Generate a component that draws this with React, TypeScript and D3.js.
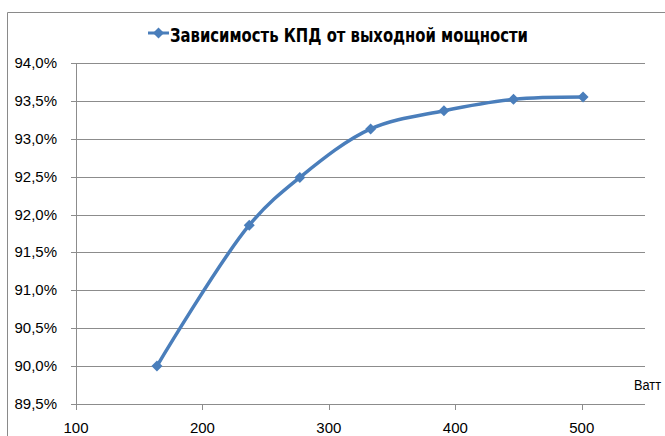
import React from 'react';
import * as d3 from 'd3';

// мощность, Вт и КПД, %
const powerW = [164, 237, 277, 333, 391, 446, 501];
const efficiency = [90.0, 91.86, 92.49, 93.13, 93.37, 93.52, 93.55];
const xTicks = [100, 200, 300, 400, 500];
const yTicks = [89.5, 90.0, 90.5, 91.0, 91.5, 92.0, 92.5, 93.0, 93.5, 94.0];
const title = 'Зависимость КПД от выходной мощности';
const xUnit = 'Ватт';

const W = 665;
const H = 436;
const margin = { top: 63, right: 20, bottom: 32, left: 76 };
const lineColor = '#4a7ebb';
const gridColor = '#8c8c8c';
const font = '"Liberation Sans", Arial, sans-serif';
const titleFont = '"Liberation Sans Narrow", "Arial Narrow", "DejaVu Sans Condensed", sans-serif';

export default function App() {
  const x = d3.scaleLinear().domain([100, 550]).range([margin.left, W - margin.right]);
  const y = d3.scaleLinear().domain([89.5, 94.0]).range([H - margin.bottom, margin.top]);

  const line = d3
    .line<number>()
    .x((_, i) => x(powerW[i]))
    .y((d) => y(d))
    .curve(d3.curveCatmullRom.alpha(0.5));

  const diamond = (cx: number, cy: number, r = 5) =>
    `M${cx},${cy - r}L${cx + r},${cy}L${cx},${cy + r}L${cx - r},${cy}Z`;

  const fmt = (v: number) => v.toFixed(1).replace('.', ',') + '%';

  return (
    <div style={{ position: 'absolute', left: 0, top: 0 }}>
      <svg width={W} height={H} style={{ display: 'block', background: '#fff' }}>
        {/* рамка диаграммы */}
        <path d={`M7.5,${H}V12.5H${W}`} fill="none" stroke="#8a8a8a" strokeWidth={1} />

        {/* заголовок с маркером легенды */}
        <line x1={148} x2={169} y1={33} y2={33} stroke={lineColor} strokeWidth={3} />
        <path d={diamond(158.5, 33, 5.5)} fill={lineColor} />
        <text
          x={170}
          y={42}
          fontFamily={titleFont}
          fontWeight="bold"
          fontSize={20}
          fill="#000"
          textLength={358}
          lengthAdjust="spacingAndGlyphs"
        >
          {title}
        </text>

        {/* сетка и ось Y */}
        {yTicks.map((t) => (
          <g key={t}>
            <line
              x1={margin.left - 5}
              x2={x(550)}
              y1={Math.round(y(t)) + 0.5}
              y2={Math.round(y(t)) + 0.5}
              stroke={gridColor}
              strokeWidth={1}
            />
            <text
              x={57}
              y={y(t) + 5}
              textAnchor="end"
              fontFamily={font}
              fontSize={15}
              fill="#000"
            >
              {fmt(t)}
            </text>
          </g>
        ))}
        <line
          x1={margin.left + 0.5}
          x2={margin.left + 0.5}
          y1={y(94)}
          y2={y(89.5)}
          stroke={gridColor}
        />

        {/* ось X */}
        {xTicks.map((t) => (
          <g key={t}>
            <line
              x1={Math.round(x(t)) + 0.5}
              x2={Math.round(x(t)) + 0.5}
              y1={y(89.5)}
              y2={y(89.5) + 6}
              stroke={gridColor}
            />
            <text x={x(t)} y={433} textAnchor="middle" fontFamily={font} fontSize={15} fill="#000">
              {t}
            </text>
          </g>
        ))}
        <text
          x={634}
          y={390}
          fontFamily={font}
          fontSize={14}
          fill="#000"
          textLength={27}
          lengthAdjust="spacingAndGlyphs"
        >
          {xUnit}
        </text>

        {/* кривая КПД */}
        <path
          d={line(efficiency) ?? ''}
          fill="none"
          stroke={lineColor}
          strokeWidth={3.5}
          strokeLinejoin="round"
          strokeLinecap="round"
        />
        {efficiency.map((v, i) => (
          <path key={i} d={diamond(x(powerW[i]), y(v), 5.5)} fill={lineColor} />
        ))}
      </svg>
    </div>
  );
}
